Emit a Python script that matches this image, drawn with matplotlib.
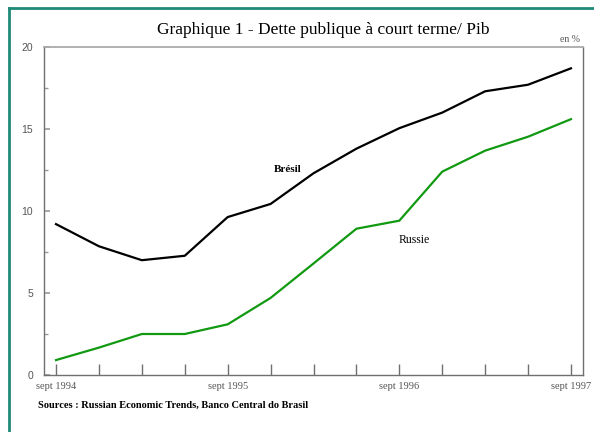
"""Dette publique a court terme / PIB, Bresil et Russie."""

import matplotlib.pyplot as plt
from matplotlib.lines import Line2D
from matplotlib.ticker import MultipleLocator

SERIF = "Liberation Serif"
SANS = "Liberation Sans"
GREY = "#555555"
SPINE = "#707070"
BORDER = "#1f8a78"

periods = list(range(13))
tick_labels = ["sept 1994", "", "", "", "sept 1995", "", "", "",
               "sept 1996", "", "", "", "sept 1997"]
bresil = [9.2, 7.85, 7.0, 7.27, 9.63, 10.43, 12.3, 13.8, 15.05, 16.0,
          17.3, 17.7, 18.7]
russie = [0.91, 1.67, 2.5, 2.5, 3.09, 4.7, 6.8, 8.92, 9.41, 12.4,
          13.68, 14.53, 15.6]


fig = plt.figure(figsize=(5.94, 4.32), dpi=100)
ax = fig.add_axes([44 / 594, 1 - 375 / 432, 539 / 594, 328 / 432])

ax.plot(periods, bresil, color="black", linewidth=1.6)
ax.plot(periods, russie, color="#119911", linewidth=1.6)

ax.set_xlim(-0.28, 12.28)
ax.set_ylim(0, 20)
ax.set_xticks(periods)
ax.set_xticklabels(tick_labels, fontfamily=SERIF, fontsize=7.5, color=GREY)
ax.yaxis.set_major_locator(MultipleLocator(5))
ax.yaxis.set_minor_locator(MultipleLocator(2.5))
for lab in ax.get_yticklabels():
    lab.set_fontfamily(SANS)
    lab.set_fontsize(7.5)
    lab.set_color(GREY)

ax.tick_params(axis="x", direction="in", length=8, width=1, color=SPINE, pad=5)
ax.tick_params(axis="y", which="major", direction="in", length=4, width=1.2,
               color="#999999", pad=8)
ax.tick_params(axis="y", which="minor", direction="in", length=3, width=1,
               color="#999999")

for side in ["left", "bottom", "right"]:
    ax.spines[side].set_color(SPINE)
    ax.spines[side].set_linewidth(1)
ax.spines["top"].set_color("#aaaaaa")
ax.spines["top"].set_linewidth(1.3)

ax.text(5.4, 12.55, "Brésil", fontfamily=SERIF, fontsize=8, fontweight="bold",
        ha="center", va="center")
ax.text(8.35, 8.25, "Russie", fontfamily=SERIF, fontsize=8.5,
        ha="center", va="center")

fig.text(323 / 594, 1 - 30 / 432,
         "Graphique 1 - Dette publique à court terme/ Pib",
         fontfamily=SERIF, fontsize=12.5, ha="center", va="center")
fig.text(570 / 594, 1 - 39 / 432, "en %", fontfamily=SERIF, fontsize=7,
         color=GREY, ha="center", va="center")
fig.text(38 / 594, 1 - 405 / 432,
         "Sources : Russian Economic Trends, Banco Central do Brasil",
         fontfamily=SERIF, fontsize=7.5, fontweight="bold",
         ha="left", va="center")

# cadre du graphique (bords gauche et haut)
fig.add_artist(Line2D([8.5 / 594, 8.5 / 594], [0, 1 - 8 / 432],
                      transform=fig.transFigure, color=BORDER, linewidth=2))
fig.add_artist(Line2D([8.5 / 594, 1], [1 - 8 / 432, 1 - 8 / 432],
                      transform=fig.transFigure, color=BORDER, linewidth=2))

fig.savefig("out.png", dpi=100, facecolor="white")
